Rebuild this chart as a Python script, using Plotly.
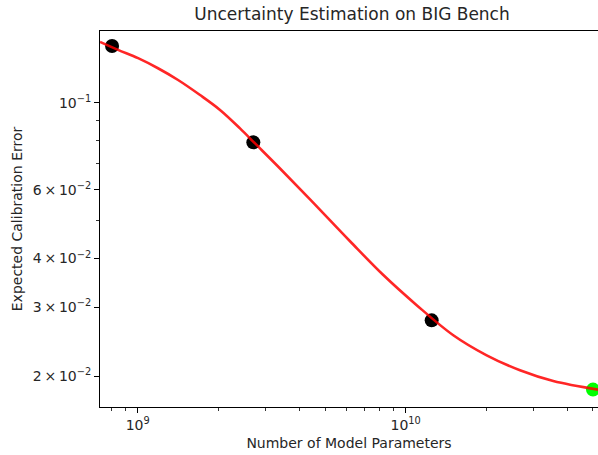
import numpy as np
import plotly.graph_objects as go

# Observed data points
params = [8.02e8, 2.70e9, 1.25e10]
ece = [0.1399, 0.0793, 0.0278]
extrap_params = [5.0e10]
extrap_ece = [0.01849]

# Fitted curve
fit_params = [7.23e8, 8.44e8, 1.003e9, 1.190e9, 1.414e9, 1.708e9, 2.028e9, 2.408e9,
              2.740e9, 3.396e9, 4.395e9, 6.198e9, 8.25e9, 1.099e10, 1.505e10,
              2.006e10, 2.670e10, 3.554e10, 5.22e10]
fit_ece = [0.1433, 0.1367, 0.1302, 0.1227, 0.1145, 0.1048, 0.0960, 0.0861,
           0.0788, 0.0680, 0.0567, 0.0443, 0.0363, 0.0304, 0.02547,
           0.02263, 0.02072, 0.01945, 0.01849]

# Tick definitions
x_tickvals = [1e9, 1e10]
x_ticktext = ["10<sup>9</sup>", "10<sup>10</sup>"]
x_minor = [8e8, 9e8] + [k * 1e9 for k in range(2, 10)] + [k * 1e10 for k in range(2, 6)]
y_tickvals = [0.1, 0.06, 0.04, 0.03, 0.02]
y_ticktext = ["10<sup>−1</sup>", "6\u2009×\u200910<sup>−2</sup>", "4\u2009×\u200910<sup>−2</sup>",
              "3\u2009×\u200910<sup>−2</sup>", "2\u2009×\u200910<sup>−2</sup>"]
y_minor = [0.09, 0.08, 0.07, 0.05]

FONT = "DejaVu Sans"
TXT = "#262626"

fig = go.Figure()
fig.add_trace(go.Scatter(x=params, y=ece, mode="markers",
                         marker=dict(color="black", size=14), showlegend=False))
fig.add_trace(go.Scatter(x=extrap_params, y=extrap_ece, mode="markers",
                         marker=dict(color="#00ff00", size=14), showlegend=False))
fig.add_trace(go.Scatter(x=fit_params, y=fit_ece, mode="lines",
                         line=dict(color="rgba(255,0,0,0.85)", width=2.6, shape="spline", smoothing=1),
                         showlegend=False))

fig.update_layout(
    width=598, height=455,
    margin=dict(l=100, r=0, t=31, b=48, autoexpand=False),
    plot_bgcolor="white", paper_bgcolor="white",
    font=dict(family=FONT, size=14, color=TXT),
    title=dict(text="Uncertainty Estimation on BIG Bench", xref="container", yref="container",
               x=352 / 598, xanchor="center", y=1 - 14 / 455, yanchor="middle",
               font=dict(family=FONT, size=17, color=TXT)),
)
fig.update_xaxes(
    type="log", range=[np.log10(7.23e8), np.log10(5.22e10)],
    tickvals=x_tickvals, ticktext=x_ticktext,
    ticks="outside", ticklen=5, tickwidth=1, tickcolor="black",
    minor=dict(tickvals=x_minor, ticks="outside", ticklen=3, tickwidth=0.8, tickcolor="black"),
    showgrid=False, zeroline=False,
    showline=True, linecolor="black", linewidth=1, mirror=True,
    tickfont=dict(family=FONT, size=14, color=TXT),
    title=dict(text="Number of Model Parameters", standoff=6,
               font=dict(family=FONT, size=14, color=TXT)),
)
fig.update_yaxes(
    type="log", range=[np.log10(0.01669), np.log10(0.1528)],
    tickvals=y_tickvals, ticktext=y_ticktext,
    ticks="outside", ticklen=5, tickwidth=1, tickcolor="black",
    minor=dict(tickvals=y_minor, ticks="outside", ticklen=3, tickwidth=0.8, tickcolor="black"),
    showgrid=False, zeroline=False,
    showline=True, linecolor="black", linewidth=1,
    tickfont=dict(family=FONT, size=14, color=TXT),
    title=dict(text="Expected Calibration Error", standoff=6,
               font=dict(family=FONT, size=14, color=TXT)),
)

fig.write_html("out.html", config={"displayModeBar": False, "staticPlot": True})

# remove default page margins so the figure sits at the window's top-left corner
with open("out.html", "r", encoding="utf-8") as f:
    html = f.read()
html = html.replace("<head>", "<head><style>html,body{margin:0;padding:0;overflow:hidden}</style>", 1)
with open("out.html", "w", encoding="utf-8") as f:
    f.write(html)
